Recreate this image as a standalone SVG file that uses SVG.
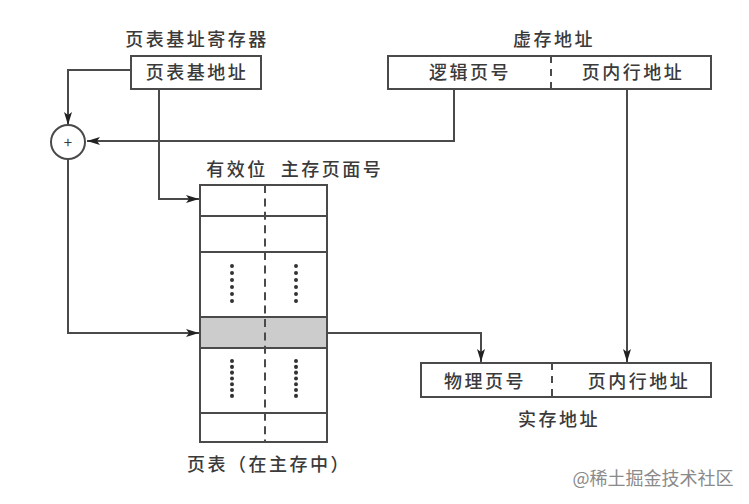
<svg xmlns="http://www.w3.org/2000/svg" width="749" height="504" viewBox="0 0 749 504">
<style>
text{font-family:"Noto Sans CJK SC","Liberation Serif",serif;font-size:18px;letter-spacing:2.5px;fill:#3a3a3a;text-anchor:middle;font-weight:500}
.s{fill:none;stroke:#4a4a4a;stroke-width:2}
.d{fill:none;stroke:#4a4a4a;stroke-width:2;stroke-dasharray:8 5.4}
.p{fill:none;stroke:#333;stroke-width:4;stroke-linecap:round}
.c{fill:none;stroke:#4a4a4a;stroke-width:2;marker-end:url(#a)}
</style>
<defs><marker id="a" markerUnits="userSpaceOnUse" markerWidth="14" markerHeight="10" refX="13" refY="5" orient="auto"><path d="M0 1L13 5L0 9L3 5Z" fill="#222"/></marker></defs>
<rect width="749" height="504" fill="#fff"/>
<g id="connectors">
<path class="c" d="M131 70H68V125"/>
<path class="c" d="M159 89V199H199"/>
<path class="c" d="M454 89V141H87"/>
<path class="c" d="M68 159V333H199"/>
<path class="c" d="M328 333H481V362"/>
<path class="c" d="M627 89V362"/>
</g>
<g id="adder"><circle class="s" cx="68" cy="142" r="17"/><text x="68" y="148" style="font-size:15px;font-weight:400;letter-spacing:0">+</text></g>
<g id="base-register"><text x="197" y="46">页表基址寄存器</text><rect class="s" x="131" y="56" width="130" height="33"/><text x="197" y="79">页表基地址</text></g>
<g id="virtual-address"><text x="554" y="46">虚存地址</text><rect class="s" x="388" y="56" width="323" height="33"/><path class="d" d="M551 56V89" style="stroke-dasharray:7 6"/><text x="470" y="79">逻辑页号</text><text x="633" y="79">页内行地址</text></g>
<g id="page-table">
<text x="237" y="176">有效位</text><text x="332" y="176">主存页面号</text>
<rect x="200" y="317" width="127" height="31" fill="#ccc"/>
<rect class="s" x="200" y="185" width="127" height="257"/>
<path class="s" d="M200 216H327M200 252H327M200 317H327M200 348H327M200 413H327"/>
<path class="d" d="M265 185V442"/>
<path class="p" style="stroke-dasharray:0.1 6.9" d="M232 266V302M296 266V302"/>
<path class="p" style="stroke-dasharray:0.1 5.7" d="M232 361V397M296 361V397"/>
<text x="269" y="471">页表（在主存中）</text>
</g>
<g id="physical-address"><rect class="s" x="421" y="363" width="290" height="34"/><path class="d" d="M552 363V397" style="stroke-dasharray:7 6"/><text x="485" y="388">物理页号</text><text x="639" y="388">页内行地址</text><text x="559" y="426">实存地址</text></g>
<text x="653" y="485" style="font-size:18px;letter-spacing:0;fill:#8a8a8a;font-weight:400">@稀土掘金技术社区</text>
</svg>
